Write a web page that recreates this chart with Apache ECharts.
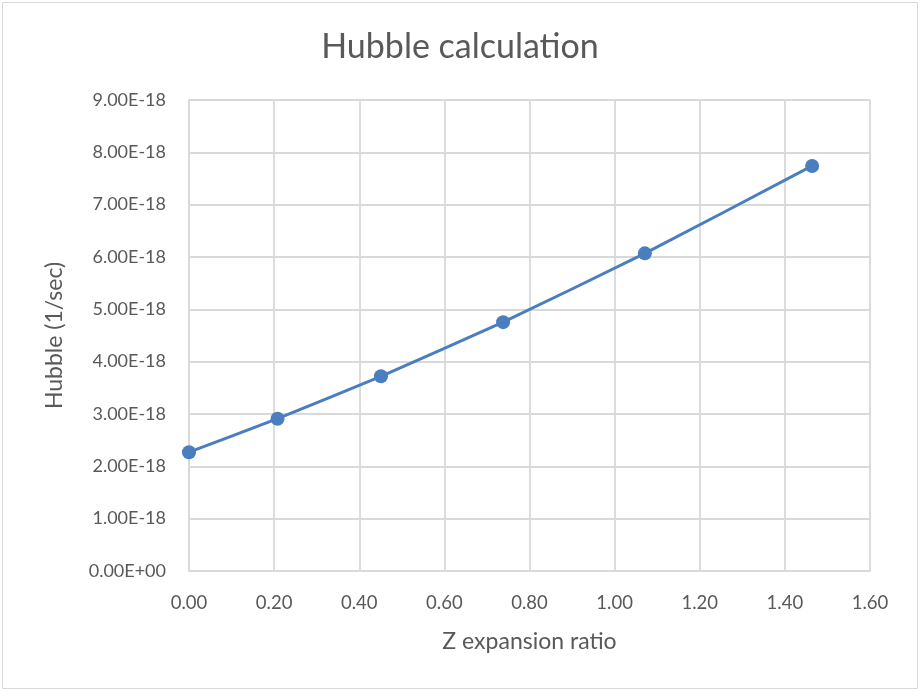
<!DOCTYPE html>
<html>
<head>
<meta charset="utf-8">
<script src="https://cdn.jsdelivr.net/npm/echarts@6/dist/echarts.min.js"></script>
<style>
html,body{margin:0;padding:0;background:#fff;}
#chart{width:920px;height:691px;}
</style>
</head>
<body>
<div id="chart"></div>
<script>
const zValues = [0.0, 0.208, 0.451, 0.738, 1.071, 1.464];
const hubbleValues = [2.27e-18, 2.91e-18, 3.72e-18, 4.755e-18, 6.07e-18, 7.74e-18];
const titleText = 'Hubble calculation';
const xAxisName = 'Z expansion ratio';
const yAxisName = 'Hubble (1/sec)';

function sci(v) {
  if (v === 0) return '0.00E+00';
  const s = v.toExponential(2).toUpperCase();
  const m = s.split('E');
  const e = parseInt(m[1], 10);
  const sign = e < 0 ? '-' : '+';
  const ae = Math.abs(e);
  return m[0] + 'E' + sign + (ae < 10 ? '0' + ae : ae);
}

const chart = echarts.init(document.getElementById('chart'), null, {renderer: 'canvas'});
const font = 'Lato, "Open Sans", sans-serif';
chart.setOption({
  animation: false,
  backgroundColor: '#fff',
  textStyle: {fontFamily: font},
  title: {
    text: titleText,
    left: 'center',
    top: 25,
    textStyle: {fontFamily: font, fontSize: 34, fontWeight: 'normal', color: '#595959'}
  },
  graphic: [{
    type: 'rect',
    shape: {x: 2.5, y: 2.5, width: 915, height: 686},
    style: {fill: 'none', stroke: '#d9d9d9', lineWidth: 1},
    silent: true
  }],
  grid: {left: 189, right: 50, top: 100, bottom: 120},
  xAxis: {
    type: 'value',
    min: 0, max: 1.6, interval: 0.2,
    name: xAxisName,
    nameLocation: 'middle',
    nameGap: 59,
    nameTextStyle: {fontFamily: font, fontSize: 23, color: '#595959'},
    axisLine: {show: true, lineStyle: {color: '#d9d9d9', width: 1.8}},
    axisTick: {show: false},
    axisLabel: {
      fontFamily: font, fontSize: 18.5, color: '#595959', margin: 23,
      formatter: v => v.toFixed(2)
    },
    splitLine: {show: true, lineStyle: {color: '#d9d9d9', width: 1.8}}
  },
  yAxis: {
    type: 'value',
    min: 0, max: 9e-18, interval: 1e-18,
    name: yAxisName,
    nameLocation: 'middle',
    nameGap: 123,
    nameTextStyle: {fontFamily: font, fontSize: 23, color: '#595959'},
    axisLine: {show: true, lineStyle: {color: '#d9d9d9', width: 1.8}},
    axisTick: {show: false},
    axisLabel: {
      fontFamily: font, fontSize: 18, color: '#595959', margin: 23,
      formatter: v => sci(v)
    },
    splitLine: {show: true, lineStyle: {color: '#d9d9d9', width: 1.8}}
  },
  series: [{
    type: 'line',
    data: zValues.map((z, i) => [z, hubbleValues[i]]),
    smooth: 0.15,
    symbol: 'circle',
    symbolSize: 14,
    lineStyle: {color: '#4a7ebf', width: 3},
    itemStyle: {color: '#4a7ebf'}
  }]
});
</script>
</body>
</html>
